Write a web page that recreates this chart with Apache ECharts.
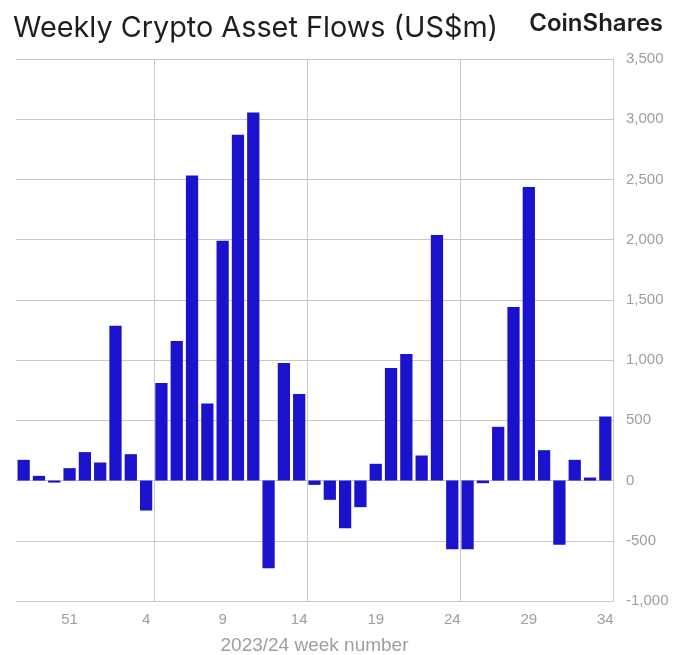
<!DOCTYPE html>
<html>
<head>
<meta charset="utf-8">
<script src="https://cdn.jsdelivr.net/npm/echarts@6/dist/echarts.min.js"></script>
<style>
html,body{margin:0;padding:0;background:#fff;overflow:hidden;}
#chart{width:674px;height:655px;}
</style>
</head>
<body>
<div id="chart"></div>
<script>
const weeks = ['48','49','50','51','52','1','2','3','4','5','6','7','8','9','10','11','12','13','14','15','16','17','18','19','20','21','22','23','24','25','26','27','28','29','30','31','32','33','34'];
const flows = [172,39,-17,103,236,150,1285,219,-249,809,1158,2533,640,1990,2871,3056,-728,975,718,-36,-160,-396,-221,139,934,1050,208,2039,-570,-570,-22,446,1440,2437,252,-534,172,25,532];
const yTicks = {min:-1000, max:3500, step:500};
const titleText = 'Weekly Crypto Asset Flows (US$m)';
const brandText = 'CoinShares';
const xAxisName = '2023/24 week number';

const el = document.getElementById('chart');
const chart = echarts.init(el, null, {renderer:'canvas'});
chart.setOption({
  animation:false,
  backgroundColor:'#ffffff',
  title:[
    {text:titleText, left:8, top:9, textStyle:{fontFamily:'Inter, Liberation Sans, sans-serif', fontSize:28.8, fontWeight:'normal', color:'#1e1e1e'}},
    {text:brandText, right:6, top:7, textStyle:{fontFamily:'Inter, Liberation Sans, sans-serif', fontSize:24, fontWeight:600, color:'#1e1e1e'}}
  ],
  grid:{left:16, right:61, top:59, bottom:54, containLabel:false, outerBoundsMode:'none'},
  xAxis:{
    type:'category',
    data:weeks,
    boundaryGap:true,
    name:xAxisName,
    nameLocation:'middle',
    nameGap:35,
    nameTextStyle:{fontFamily:'Liberation Sans, Arial, sans-serif', fontSize:19, color:'#9e9e9e'},
    axisLine:{show:true, lineStyle:{color:'#c8c8c8', width:1}},
    axisTick:{show:false},
    axisLabel:{interval:function(i){return i%5===3;}, color:'#9e9e9e', fontSize:15, margin:11, fontFamily:'Liberation Sans, Arial, sans-serif'},
    splitLine:{show:true, interval:function(i){return i%10===9;}, lineStyle:{color:'#c8c8c8', width:1}}
  },
  yAxis:{
    type:'value',
    position:'right',
    min:yTicks.min, max:yTicks.max, interval:yTicks.step,
    axisLine:{show:true, lineStyle:{color:'#c8c8c8', width:1}},
    axisTick:{show:false},
    axisLabel:{color:'#9e9e9e', fontSize:15, margin:13, fontFamily:'Liberation Sans, Arial, sans-serif',
      formatter:function(v){return v.toLocaleString('en-US');}},
    splitLine:{show:true, lineStyle:{color:'#c8c8c8', width:1}}
  },
  series:[{
    type:'bar',
    data:flows,
    barCategoryGap:'20%',
    itemStyle:{color:'#1a12cc'}
  }]
});
</script>
</body>
</html>
